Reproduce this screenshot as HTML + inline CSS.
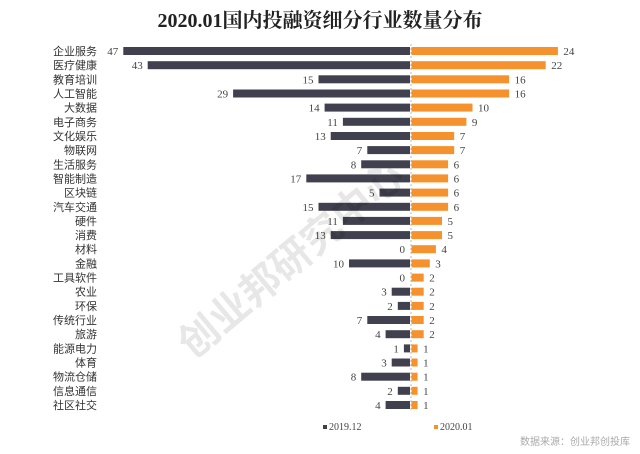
<!DOCTYPE html>
<html><head><meta charset="utf-8"><style>
body{margin:0;background:#fff;}
svg{display:block;font-family:"Liberation Serif","Noto Serif CJK SC",serif;}
.l{font-family:"Liberation Sans","Noto Sans CJK SC",sans-serif;font-size:11px;fill:#333;text-anchor:end;}
.v{font-size:11px;fill:#444;}
.e{text-anchor:end;}
.a{fill:#41404e;}
.b{fill:#f5922e;}
</style></head><body>
<svg width="640" height="454" viewBox="0 0 640 454" xmlns="http://www.w3.org/2000/svg">
<rect width="640" height="454" fill="#fff"/>
<text x="320" y="27" text-anchor="middle" font-size="20" font-weight="bold" fill="#222">2020.01国内投融资细分行业数量分布</text>
<line x1="411" y1="44" x2="411" y2="412" stroke="#bbb" stroke-dasharray="2,2"/>

<g transform="translate(0,51)"><text class="l" x="97" y="4">企业服务</text><rect class="a" x="123.3" y="-4" width="286.7" height="8"/><text class="v e" x="118.3" y="4">47</text><rect class="b" x="411.5" y="-4" width="146.4" height="8"/><text class="v" x="563.4" y="4">24</text></g>
<g transform="translate(0,65.2)"><text class="l" x="97" y="4">医疗健康</text><rect class="a" x="147.7" y="-4" width="262.3" height="8"/><text class="v e" x="142.7" y="4">43</text><rect class="b" x="411.5" y="-4" width="134.2" height="8"/><text class="v" x="551.2" y="4">22</text></g>
<g transform="translate(0,79.3)"><text class="l" x="97" y="4">教育培训</text><rect class="a" x="318.5" y="-4" width="91.5" height="8"/><text class="v e" x="313.5" y="4">15</text><rect class="b" x="411.5" y="-4" width="97.6" height="8"/><text class="v" x="514.6" y="4">16</text></g>
<g transform="translate(0,93.5)"><text class="l" x="97" y="4">人工智能</text><rect class="a" x="233.1" y="-4" width="176.9" height="8"/><text class="v e" x="228.1" y="4">29</text><rect class="b" x="411.5" y="-4" width="97.6" height="8"/><text class="v" x="514.6" y="4">16</text></g>
<g transform="translate(0,107.6)"><text class="l" x="97" y="4">大数据</text><rect class="a" x="324.6" y="-4" width="85.4" height="8"/><text class="v e" x="319.6" y="4">14</text><rect class="b" x="411.5" y="-4" width="61" height="8"/><text class="v" x="478" y="4">10</text></g>
<g transform="translate(0,121.8)"><text class="l" x="97" y="4">电子商务</text><rect class="a" x="342.9" y="-4" width="67.1" height="8"/><text class="v e" x="337.9" y="4">11</text><rect class="b" x="411.5" y="-4" width="54.9" height="8"/><text class="v" x="471.9" y="4">9</text></g>
<g transform="translate(0,136)"><text class="l" x="97" y="4">文化娱乐</text><rect class="a" x="330.7" y="-4" width="79.3" height="8"/><text class="v e" x="325.7" y="4">13</text><rect class="b" x="411.5" y="-4" width="42.7" height="8"/><text class="v" x="459.7" y="4">7</text></g>
<g transform="translate(0,150.1)"><text class="l" x="97" y="4">物联网</text><rect class="a" x="367.3" y="-4" width="42.7" height="8"/><text class="v e" x="362.3" y="4">7</text><rect class="b" x="411.5" y="-4" width="42.7" height="8"/><text class="v" x="459.7" y="4">7</text></g>
<g transform="translate(0,164.3)"><text class="l" x="97" y="4">生活服务</text><rect class="a" x="361.2" y="-4" width="48.8" height="8"/><text class="v e" x="356.2" y="4">8</text><rect class="b" x="411.5" y="-4" width="36.6" height="8"/><text class="v" x="453.6" y="4">6</text></g>
<g transform="translate(0,178.4)"><text class="l" x="97" y="4">智能制造</text><rect class="a" x="306.3" y="-4" width="103.7" height="8"/><text class="v e" x="301.3" y="4">17</text><rect class="b" x="411.5" y="-4" width="36.6" height="8"/><text class="v" x="453.6" y="4">6</text></g>
<g transform="translate(0,192.6)"><text class="l" x="97" y="4">区块链</text><rect class="a" x="379.5" y="-4" width="30.5" height="8"/><text class="v e" x="374.5" y="4">5</text><rect class="b" x="411.5" y="-4" width="36.6" height="8"/><text class="v" x="453.6" y="4">6</text></g>
<g transform="translate(0,206.8)"><text class="l" x="97" y="4">汽车交通</text><rect class="a" x="318.5" y="-4" width="91.5" height="8"/><text class="v e" x="313.5" y="4">15</text><rect class="b" x="411.5" y="-4" width="36.6" height="8"/><text class="v" x="453.6" y="4">6</text></g>
<g transform="translate(0,220.9)"><text class="l" x="97" y="4">硬件</text><rect class="a" x="342.9" y="-4" width="67.1" height="8"/><text class="v e" x="337.9" y="4">11</text><rect class="b" x="411.5" y="-4" width="30.5" height="8"/><text class="v" x="447.5" y="4">5</text></g>
<g transform="translate(0,235.1)"><text class="l" x="97" y="4">消费</text><rect class="a" x="330.7" y="-4" width="79.3" height="8"/><text class="v e" x="325.7" y="4">13</text><rect class="b" x="411.5" y="-4" width="30.5" height="8"/><text class="v" x="447.5" y="4">5</text></g>
<g transform="translate(0,249.2)"><text class="l" x="97" y="4">材料</text><text class="v e" x="405" y="4">0</text><rect class="b" x="411.5" y="-4" width="24.4" height="8"/><text class="v" x="441.4" y="4">4</text></g>
<g transform="translate(0,263.4)"><text class="l" x="97" y="4">金融</text><rect class="a" x="349" y="-4" width="61" height="8"/><text class="v e" x="344" y="4">10</text><rect class="b" x="411.5" y="-4" width="18.3" height="8"/><text class="v" x="435.3" y="4">3</text></g>
<g transform="translate(0,277.6)"><text class="l" x="97" y="4">工具软件</text><text class="v e" x="405" y="4">0</text><rect class="b" x="411.5" y="-4" width="12.2" height="8"/><text class="v" x="429.2" y="4">2</text></g>
<g transform="translate(0,291.7)"><text class="l" x="97" y="4">农业</text><rect class="a" x="391.7" y="-4" width="18.3" height="8"/><text class="v e" x="386.7" y="4">3</text><rect class="b" x="411.5" y="-4" width="12.2" height="8"/><text class="v" x="429.2" y="4">2</text></g>
<g transform="translate(0,305.9)"><text class="l" x="97" y="4">环保</text><rect class="a" x="397.8" y="-4" width="12.2" height="8"/><text class="v e" x="392.8" y="4">2</text><rect class="b" x="411.5" y="-4" width="12.2" height="8"/><text class="v" x="429.2" y="4">2</text></g>
<g transform="translate(0,320)"><text class="l" x="97" y="4">传统行业</text><rect class="a" x="367.3" y="-4" width="42.7" height="8"/><text class="v e" x="362.3" y="4">7</text><rect class="b" x="411.5" y="-4" width="12.2" height="8"/><text class="v" x="429.2" y="4">2</text></g>
<g transform="translate(0,334.2)"><text class="l" x="97" y="4">旅游</text><rect class="a" x="385.6" y="-4" width="24.4" height="8"/><text class="v e" x="380.6" y="4">4</text><rect class="b" x="411.5" y="-4" width="12.2" height="8"/><text class="v" x="429.2" y="4">2</text></g>
<g transform="translate(0,348.4)"><text class="l" x="97" y="4">能源电力</text><rect class="a" x="403.9" y="-4" width="6.1" height="8"/><text class="v e" x="398.9" y="4">1</text><rect class="b" x="411.5" y="-4" width="6.1" height="8"/><text class="v" x="423.1" y="4">1</text></g>
<g transform="translate(0,362.5)"><text class="l" x="97" y="4">体育</text><rect class="a" x="391.7" y="-4" width="18.3" height="8"/><text class="v e" x="386.7" y="4">3</text><rect class="b" x="411.5" y="-4" width="6.1" height="8"/><text class="v" x="423.1" y="4">1</text></g>
<g transform="translate(0,376.7)"><text class="l" x="97" y="4">物流仓储</text><rect class="a" x="361.2" y="-4" width="48.8" height="8"/><text class="v e" x="356.2" y="4">8</text><rect class="b" x="411.5" y="-4" width="6.1" height="8"/><text class="v" x="423.1" y="4">1</text></g>
<g transform="translate(0,390.8)"><text class="l" x="97" y="4">信息通信</text><rect class="a" x="397.8" y="-4" width="12.2" height="8"/><text class="v e" x="392.8" y="4">2</text><rect class="b" x="411.5" y="-4" width="6.1" height="8"/><text class="v" x="423.1" y="4">1</text></g>
<g transform="translate(0,405)"><text class="l" x="97" y="4">社区社交</text><rect class="a" x="385.6" y="-4" width="24.4" height="8"/><text class="v e" x="380.6" y="4">4</text><rect class="b" x="411.5" y="-4" width="6.1" height="8"/><text class="v" x="423.1" y="4">1</text></g>

<text x="300" y="270" text-anchor="middle" font-size="40" font-weight="bold" fill="#000" opacity="0.09" transform="rotate(-40 300 270)" font-family="'Noto Sans CJK SC',sans-serif">创业邦研究中心</text>
<rect x="323" y="425" width="4" height="4" fill="#41404e"/>
<text x="329" y="430" font-size="10" fill="#444">2019.12</text>
<rect x="434" y="425" width="4" height="4" fill="#f5922e"/>
<text x="440" y="430" font-size="10" fill="#444">2020.01</text>
<text x="630" y="445" text-anchor="end" font-size="10" fill="#aaa" font-family="'Liberation Sans','Noto Sans CJK SC',sans-serif">数据来源：创业邦创投库</text>
</svg>
</body></html>
